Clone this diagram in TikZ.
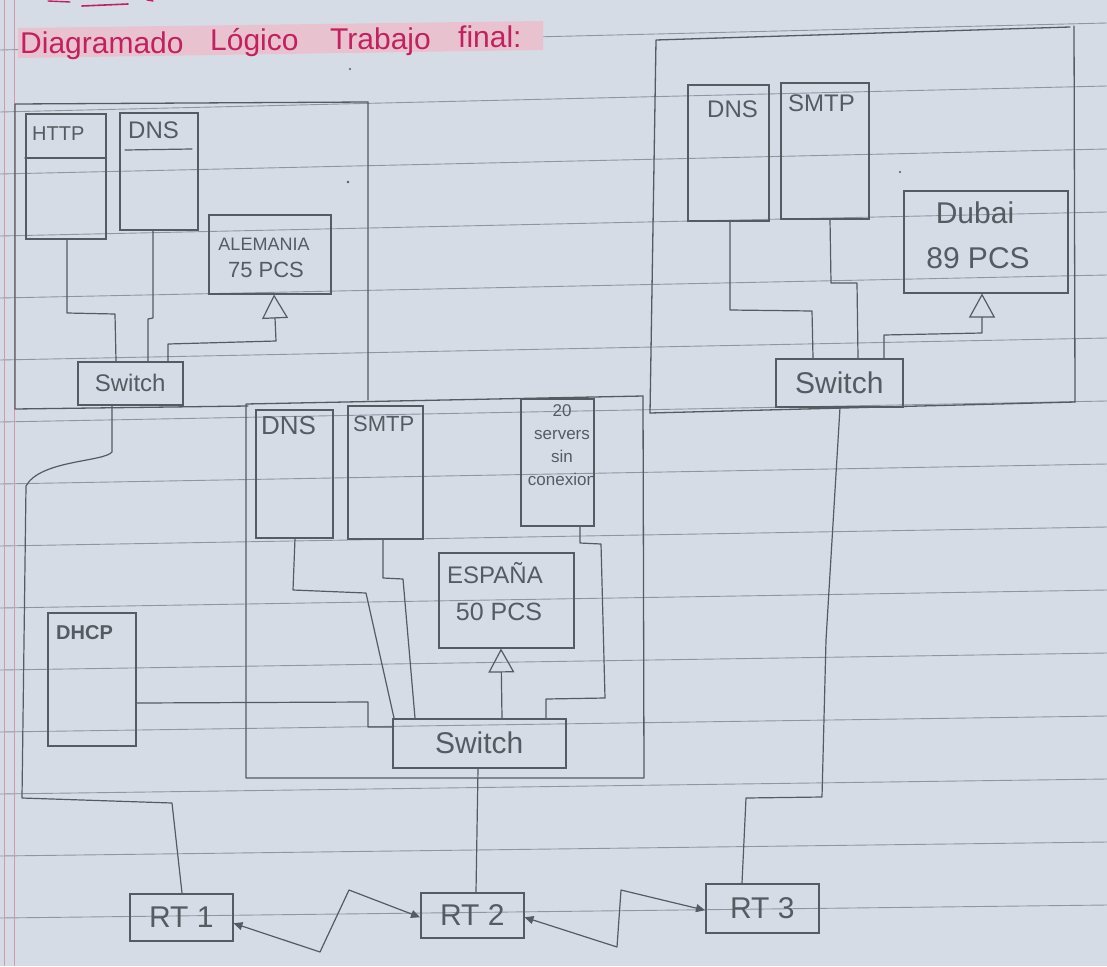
\documentclass[tikz,border=0pt]{standalone}
\usepackage{fontspec}
\setmainfont{Liberation Sans}
\usetikzlibrary{arrows.meta}
\definecolor{paper}{HTML}{D6DCE6}
\definecolor{rulec}{HTML}{8E96A3}
\definecolor{pencil}{HTML}{565A61}
\definecolor{magen}{HTML}{C2205F}
\definecolor{hilite}{HTML}{E8C3CF}
\definecolor{marginc}{HTML}{D39AAA}
\newcommand\fsz[2]{\fontsize{#1}{#2}\selectfont}
\tikzset{
  region/.style={draw=pencil, line width=1.3pt, line join=round, line cap=round},
  box/.style={draw=pencil, line width=1.5pt, inner sep=0pt, anchor=north west, text=pencil},
  wire/.style={draw=pencil, line width=1.2pt, line join=round, line cap=round},
  txt/.style={text=pencil, inner sep=0pt},
  pctip/.style={-{Triangle[open, length=24pt, width=26pt]}},
  serial/.style={{Triangle[length=9pt,width=8pt]}-{Triangle[length=9pt,width=8pt]}},
}
\begin{document}
\begin{tikzpicture}[x=1pt,y=-1pt]
\useasboundingbox (0,0) rectangle (1107,966);
\fill[paper] (0,0) rectangle (1107,966);
% ruled lines
\foreach \k in {0,...,15} \draw[rulec, line width=0.9pt] (0,{50+62*\k}) -- (1107,{23+63*\k});
% margin lines
\draw[marginc, line width=1pt] (4,0) -- (4,966);
\draw[marginc, line width=1pt] (14,0) -- (14,966);
% stray marks at top
\draw[magen, line width=1.6pt, line cap=round] (82,6) -- (128,4);
\draw[magen, line width=1.4pt, line cap=round] (48,1) -- (70,2);
\draw[magen, line width=1.4pt, line cap=round] (147,0) -- (153,1);
% title
\fill[hilite] (18,28) -- (543,21) -- (543,50) -- (18,58) -- cycle;
\node[text=magen, inner sep=0pt, anchor=base west, font=\fsz{30}{30}] (t1) at (20,53) {Diagramado};
\node[text=magen, inner sep=0pt, anchor=base west, font=\fsz{30}{30}] (t2) at (210,51) {Lógico};
\node[text=magen, inner sep=0pt, anchor=base west, font=\fsz{30}{30}] (t3) at (330,50) {Trabajo};
\node[text=magen, inner sep=0pt, anchor=base west, font=\fsz{30}{30}] (t4) at (458,48) {final:};
% pencil dots
\fill[pencil] (348,182) circle (1.4pt);
\fill[pencil] (900,172) circle (1.2pt);
\fill[pencil] (350,69) circle (1.2pt);

% ---------- regions ----------
\draw[region] (248,406) -- (15,409) -- (15,104) -- (368,102) -- (368,400);
\draw[region] (246,404) -- (643,396) -- (644,778) -- (246,778) -- cycle;
\draw[region] (650,413) -- (656,40) -- (1070,27);
\draw[region] (1074,26) -- (1075,402);
\draw[region] (650,413) -- (1075,402);

% ---------- Routers ----------
\node[box, minimum width=103pt, minimum height=47pt, font=\fsz{30}{30}] (rt1) at (129,893) {RT 1};
\node[box, minimum width=103pt, minimum height=45pt, font=\fsz{30}{30}] (rt2) at (420,892) {RT 2};
\node[box, minimum width=113pt, minimum height=49pt, font=\fsz{30}{30}] (rt3) at (705,883) {RT 3};

% ---------- Alemania ----------
\node[box, minimum width=80pt, minimum height=125pt] (http) at (25,113) {};
\draw[wire] (http.west |- 0,158) -- (http.east |- 0,158);
\node[txt, anchor=north west, font=\fsz{20}{20}] (httpT) at (32,127) {HTTP};
\node[box, minimum width=78pt, minimum height=117pt] (dns1) at (119,112) {};
\draw[wire] (125,150) -- (192,149);
\node[txt, anchor=north west, font=\fsz{24}{24}] (dns1T) at (128,122) {DNS};
\node[box, minimum width=122pt, minimum height=79pt] (alem) at (208,214) {};
\node[txt, anchor=base, font=\fsz{18}{18}] (alemT1) at (264,250) {ALEMANIA};
\node[txt, anchor=base, font=\fsz{22}{22}] (alemT2) at (266,277) {75 PCS};
\node[box, minimum width=105pt, minimum height=43pt, font=\fsz{24}{24}] (sw1) at (77,361) {Switch};

\draw[wire] (http.south -| 67,0) -- (67,313) -- (115,314) -- (sw1.north -| 116,0);
\draw[wire] (dns1.south -| 153,0) -- (153,318) -- (148,319) -- (sw1.north -| 148,0);
\draw[wire, pctip] (sw1.north -| 168,0) -- (168,344) -- (276,341) -- (alem.south -| 274,0);
\draw[wire] (sw1.south -| 112,0) -- (112,452) .. controls (104,462) and (40,460) .. (26,486) -- (22,798) -- (172,803) -- (rt1.north -| 182,0);

% ---------- DHCP ----------
\node[box, minimum width=88pt, minimum height=133pt] (dhcp) at (47,612) {};
\node[txt, anchor=north west, font=\fsz{20}{20}\bfseries] (dhcpT) at (56,625) {DHCP};

% ---------- España ----------
\node[box, minimum width=77pt, minimum height=128pt] (dns2) at (255,409) {};
\node[txt, anchor=north west, font=\fsz{26}{26}] (dns2T) at (261,416) {DNS};
\node[box, minimum width=75pt, minimum height=133pt] (smtp2) at (347,405) {};
\node[txt, anchor=north west, font=\fsz{22}{22}] (smtp2T) at (353,416) {SMTP};
\node[box, minimum width=73pt, minimum height=127pt] (srv) at (520,398) {};
\node[txt, anchor=north, align=center, font=\fsz{17}{23}] (srvT) at (562,404) {20\\servers\\sin\\conexion};
\node[box, minimum width=135pt, minimum height=95pt] (esp) at (438,552) {};
\node[txt, anchor=base, font=\fsz{24}{24}] (espT1) at (495,583) {ESPAÑA};
\node[txt, anchor=base, font=\fsz{25}{25}] (espT2) at (499,620) {50 PCS};
\node[box, minimum width=173pt, minimum height=49pt, font=\fsz{30}{30}] (sw2) at (392,718) {Switch};

\draw[wire] (dhcp.east |- 0,703) -- (368,702) -- (368,727) -- (sw2.west |- 0,727);
\draw[wire] (dns2.south -| 295,0) -- (293,590) -- (366,593) -- (sw2.north -| 394,0);
\draw[wire] (smtp2.south -| 383,0) -- (383,578) -- (403,579) -- (sw2.north -| 415,0);
\draw[wire] (srv.south -| 580,0) -- (580,543) -- (601,544) -- (605,698) -- (546,699) -- (sw2.north -| 546,0);
\draw[wire, pctip] (sw2.north -| 502,0) -- (esp.south -| 501,0);

% ---------- Dubai ----------
\node[box, minimum width=81pt, minimum height=136pt] (dns3) at (687,84) {};
\node[txt, anchor=north west, font=\fsz{24}{24}] (dns3T) at (707,101) {DNS};
\node[box, minimum width=88pt, minimum height=136pt] (smtp3) at (780,82) {};
\node[txt, anchor=north west, font=\fsz{24}{24}] (smtp3T) at (788,95) {SMTP};
\node[box, minimum width=164pt, minimum height=102pt] (dubai) at (903,190) {};
\node[txt, anchor=base, font=\fsz{30}{30}] (dubaiT1) at (975,223) {Dubai};
\node[txt, anchor=base, font=\fsz{30}{30}] (dubaiT2) at (978,268) {89 PCS};
\node[box, minimum width=127pt, minimum height=48pt, font=\fsz{30}{30}] (sw3) at (775,358) {Switch};

\draw[wire] (dns3.south -| 730,0) -- (730,310) -- (812,311) -- (sw3.north -| 813,0);
\draw[wire] (smtp3.south -| 830,0) -- (831,283) -- (857,283) -- (sw3.north -| 858,0);
\draw[wire, pctip] (sw3.north -| 884,0) -- (884,335) -- (982,333) -- (dubai.south -| 982,0);

% ---------- Router links ----------
\draw[wire] (sw2.south -| 478,0) -- (rt2.north -| 476,0);
\draw[wire] (sw3.south -| 840,0) -- (826,640) -- (822,797) -- (746,798) -- (rt3.north -| 742,0);
\draw[wire, serial] ([yshift=-6pt]rt1.east) -- (320,952) -- (349,890) -- ([yshift=-2pt]rt2.west);
\draw[wire, serial] ([yshift=-2pt]rt2.east) -- (617,947) -- (621,890) -- ([yshift=-2pt]rt3.west);
\end{tikzpicture}
\end{document}
